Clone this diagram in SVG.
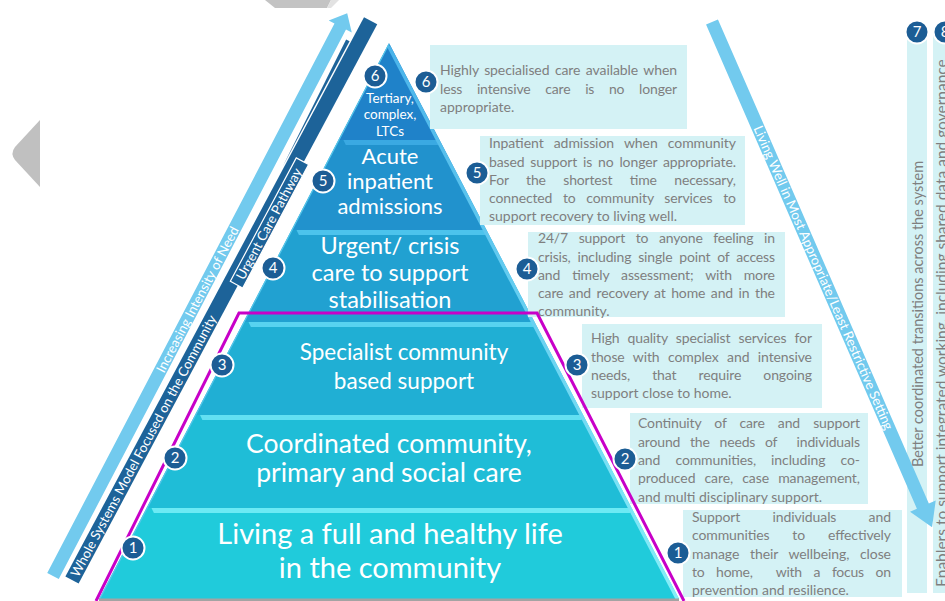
<svg xmlns="http://www.w3.org/2000/svg" width="945" height="601" viewBox="0 0 945 601">
<defs>
<style>
.t{font-family:Lato,"Liberation Sans",sans-serif}
.tier{fill:#ffffff;text-anchor:middle}
.box{fill:#d4f2f5}
.desc{fill:#7f7f7f;font-size:14px}
.badge{fill:#1c5d95;stroke:#ffffff;stroke-width:2}
.num{fill:#ffffff;font-size:15px;text-anchor:middle}
.btxt{fill:#ffffff;font-size:13.3px;text-anchor:middle}
.light{fill:#72caee}
.dark{fill:#1d6399}
.hl{stroke:none}
.coltxt{fill:#7f7f7f}
</style>
<linearGradient id="edgeGrad" gradientUnits="userSpaceOnUse" x1="0" y1="43" x2="0" y2="599">
<stop offset="0" stop-color="#4ab3ea"/>
<stop offset="1" stop-color="#86eef8"/>
</linearGradient>
</defs>

<g id="decor">
<path d="M40,120 L40,187 L15,160 Q10,153.5 15,147 Z" fill="#c0c0c0"/>
<polygon points="265,0 331,0 327,8 275,8" fill="#c3c3c3"/>
<polygon points="331,0 339,0 331,8 327,8" fill="#e2e2e2"/>
</g>

<g id="pyramid">
<g id="tier-6">
<polygon points="389,43 439.6,140 338.4,140" fill="#1f82c9"/>
<text class="t tier" x="390" y="102.5" font-size="13.5">Tertiary,</text>
<text class="t tier" x="390" y="119" font-size="13.5">complex,</text>
<text class="t tier" x="390" y="135.5" font-size="13.5">LTCs</text>
</g>
<g id="tier-5">
<polygon points="338.4,140 439.6,140 486.5,230 291.5,230" fill="#2192cd"/>
<polygon class="hl" points="343.4,140 438.6,140 438.2,145 345.8,145" fill="#3aa9e2"/>
<text class="t tier" x="390" y="164" font-size="22">Acute</text>
<text class="t tier" x="390" y="189" font-size="22">inpatient</text>
<text class="t tier" x="390" y="213.5" font-size="22">admissions</text>
</g>
<g id="tier-4">
<polygon points="291.5,230 486.5,230 534.5,322 243.5,322" fill="#21a1d1"/>
<polygon class="hl" points="296.5,230 485.5,230 485.1,235 298.9,235" fill="#4cc3ec"/>
<text class="t tier" x="390" y="254" font-size="23.5">Urgent/ crisis</text>
<text class="t tier" x="390" y="281" font-size="23.5">care to support</text>
<text class="t tier" x="390" y="308" font-size="23.5">stabilisation</text>
</g>
<g id="tier-3">
<polygon points="243.5,322 534.5,322 583,415 195,415" fill="#20afd4"/>
<polygon class="hl" points="248.5,322 533.5,322 533.1,327 250.9,327" fill="#58d3f0"/>
<text class="t tier" x="404" y="360" font-size="22.5">Specialist community</text>
<text class="t tier" x="404" y="388.5" font-size="22.5">based support</text>
</g>
<g id="tier-2">
<polygon points="195,415 583,415 631.5,508 146.5,508" fill="#1fbdd7"/>
<polygon class="hl" points="200,415 582,415 581.6,420 202.4,420" fill="#62e0f2"/>
<text class="t tier" x="389" y="452.5" font-size="26.5">Coordinated community,</text>
<text class="t tier" x="389" y="482" font-size="26.5">primary and social care</text>
</g>
<g id="tier-1">
<polygon points="146.5,508 631.5,508 679,599 99,599" fill="#20cbdb"/>
<polygon class="hl" points="151.5,508 630.5,508 630.1,513 153.9,513" fill="#6ceaf4"/>
<text class="t tier" x="390" y="544" font-size="29">Living a full and healthy life</text>
<text class="t tier" x="390" y="578" font-size="29">in the community</text>
</g>
<line x1="388.5" y1="46" x2="677.3" y2="599" stroke="url(#edgeGrad)" stroke-width="3.5"/>
<line x1="389" y1="44" x2="99.8" y2="599" stroke="#55c6ea" stroke-width="1.2"/>
<rect x="99" y="598.5" width="580" height="2.5" fill="#a3a3a3"/>
</g>

<g id="descriptions">
<g id="desc-6">
<rect class="box" x="430" y="45" width="257" height="84"/>
<text class="t desc" x="440" y="75" textLength="237" lengthAdjust="spacing" word-spacing="2">Highly specialised care available when</text>
<text class="t desc" x="440" y="93.5" textLength="237" lengthAdjust="spacing" word-spacing="11.3">less intensive care is no longer</text>
<text class="t desc" x="440" y="111.5">appropriate.</text>
</g>
<g id="desc-5">
<rect class="box" x="480" y="136" width="265" height="89"/>
<text class="t desc" x="489" y="148" textLength="247" lengthAdjust="spacing" word-spacing="6.6">Inpatient admission when community</text>
<text class="t desc" x="489" y="166.5" textLength="247" lengthAdjust="spacing" word-spacing="2.4">based support is no longer appropriate.</text>
<text class="t desc" x="489" y="185" textLength="247" lengthAdjust="spacing" word-spacing="14.1">For the shortest time necessary,</text>
<text class="t desc" x="489" y="203" textLength="247" lengthAdjust="spacing" word-spacing="7.2">connected to community services to</text>
<text class="t desc" x="489" y="221">support recovery to living well.</text>
</g>
<g id="desc-4">
<rect class="box" x="528" y="232" width="257" height="85"/>
<text class="t desc" x="538" y="243" textLength="237" lengthAdjust="spacing" word-spacing="7.3">24/7 support to anyone feeling in</text>
<text class="t desc" x="538" y="261.5" textLength="237" lengthAdjust="spacing" word-spacing="3.5">crisis, including single point of access</text>
<text class="t desc" x="538" y="280" textLength="237" lengthAdjust="spacing" word-spacing="8.5">and timely assessment; with more</text>
<text class="t desc" x="538" y="298" textLength="237" lengthAdjust="spacing" word-spacing="2.1">care and recovery at home and in the</text>
<text class="t desc" x="538" y="316">community.</text>
</g>
<g id="desc-3">
<rect class="box" x="582" y="324" width="240" height="84"/>
<text class="t desc" x="591" y="343" textLength="221" lengthAdjust="spacing" word-spacing="4.8">High quality specialist services for</text>
<text class="t desc" x="591" y="361.5" textLength="221" lengthAdjust="spacing" word-spacing="5">those with complex and intensive</text>
<text class="t desc" x="591" y="380" textLength="221" lengthAdjust="spacing" word-spacing="18.6">needs, that require ongoing</text>
<text class="t desc" x="591" y="398">support close to home.</text>
</g>
<g id="desc-2">
<rect class="box" x="630" y="413" width="238" height="91"/>
<text class="t desc" x="638" y="428" textLength="222" lengthAdjust="spacing" word-spacing="9.6">Continuity of care and support</text>
<text class="t desc" x="638" y="446.5" textLength="222" lengthAdjust="spacing" word-spacing="6.3" style="white-space:pre">around the needs of  individuals</text>
<text class="t desc" x="638" y="465" textLength="222" lengthAdjust="spacing" word-spacing="11.7">and communities, including co-</text>
<text class="t desc" x="638" y="483" textLength="222" lengthAdjust="spacing" word-spacing="5.6">produced care, case management,</text>
<text class="t desc" x="638" y="501.5">and multi disciplinary support.</text>
</g>
<g id="desc-1">
<rect class="box" x="683" y="510" width="219" height="87"/>
<text class="t desc" x="692" y="522" textLength="199" lengthAdjust="spacing" word-spacing="28.9">Support individuals and</text>
<text class="t desc" x="692" y="540" textLength="199" lengthAdjust="spacing" word-spacing="19.5">communities to effectively</text>
<text class="t desc" x="692" y="558.5" textLength="199" lengthAdjust="spacing" word-spacing="7.3">manage their wellbeing, close</text>
<text class="t desc" x="692" y="577" textLength="199" lengthAdjust="spacing" word-spacing="8.3" style="white-space:pre">to home,  with a focus on</text>
<text class="t desc" x="692" y="595">prevention and resilience.</text>
</g>
</g>

<polyline id="community-boundary" points="96,601 239,313 537,313 684,601" fill="none" stroke="#c800c8" stroke-width="3"/>

<g id="columns">
<g id="col-7">
<rect class="box" x="907" y="32" width="20" height="561"/>
<text class="t coltxt" transform="translate(923,314) rotate(-90)" font-size="14.5" text-anchor="middle">Better coordinated transitions across the system</text>
</g>
<g id="col-8">
<rect class="box" x="933" y="32" width="14" height="561"/>
<text class="t coltxt" transform="translate(947,587) rotate(-90)" font-size="15.5">Enablers to support integrated working, including shared data and governance</text>
</g>
</g>

<g id="connectors">
<g id="intensity-arrow" transform="translate(53,576) rotate(-62.4)">
<polygon class="light" points="0,-6.5 620,-6.5 620,-13 635,0 620,13 620,6.5 0,6.5"/>
<text class="t btxt" x="312" y="4.6">Increasing Intensity of Need</text>
</g>
<g id="whole-systems" transform="translate(72,580) rotate(-61.9)">
<rect class="dark" x="0" y="-7.5" width="634" height="15"/>
<text class="t btxt" x="152" y="4.6">Whole Systems Model Focused on the Community</text>
<polygon class="dark" points="464,-8.9 606,-8.9 606,-12.8"/>
<rect class="dark" x="338" y="-1" width="140" height="14" stroke="#ffffff" stroke-width="1.2"/>
<text class="t btxt" x="407" y="10.6">Urgent Care Pathway</text>
</g>
<g id="living-well-arrow" transform="translate(712,22) rotate(66.46)">
<polygon class="light" points="0,-6.5 528,-6.5 528,-14 551,0 528,14 528,6.5 0,6.5"/>
<text class="t btxt" x="279" y="4.6">Living Well in Most Appropriate/Least Restrictive Setting</text>
</g>
</g>

<g id="badges">
<g id="badge-p6"><circle class="badge" cx="375" cy="76" r="11.5"/><text class="t num" x="375" y="81.3">6</text></g>
<g id="badge-p5"><circle class="badge" cx="323" cy="181" r="11.5"/><text class="t num" x="323" y="186.3">5</text></g>
<g id="badge-p4"><circle class="badge" cx="273" cy="268" r="11.5"/><text class="t num" x="273" y="273.3">4</text></g>
<g id="badge-p3"><circle class="badge" cx="222" cy="365" r="11.5"/><text class="t num" x="222" y="370.3">3</text></g>
<g id="badge-p2"><circle class="badge" cx="175" cy="458" r="11.5"/><text class="t num" x="175" y="463.3">2</text></g>
<g id="badge-p1"><circle class="badge" cx="133" cy="548" r="11.5"/><text class="t num" x="133" y="553.3">1</text></g>
<g id="badge-d6"><circle class="badge" cx="426" cy="82" r="11.5"/><text class="t num" x="426" y="87.3">6</text></g>
<g id="badge-d5"><circle class="badge" cx="477" cy="173" r="11.5"/><text class="t num" x="477" y="178.3">5</text></g>
<g id="badge-d4"><circle class="badge" cx="527" cy="269" r="11.5"/><text class="t num" x="527" y="274.3">4</text></g>
<g id="badge-d3"><circle class="badge" cx="577" cy="365" r="11.5"/><text class="t num" x="577" y="370.3">3</text></g>
<g id="badge-d2"><circle class="badge" cx="625" cy="459" r="11.5"/><text class="t num" x="625" y="464.3">2</text></g>
<g id="badge-d1"><circle class="badge" cx="678" cy="553" r="11.5"/><text class="t num" x="678" y="558.3">1</text></g>
<g id="badge-7"><circle class="badge" cx="917" cy="32" r="11.5"/><text class="t num" x="917" y="37.3">7</text></g>
<g id="badge-8"><circle class="badge" cx="945" cy="32" r="11.5"/><text class="t num" x="945" y="37.3">8</text></g>
</g>
</svg>
